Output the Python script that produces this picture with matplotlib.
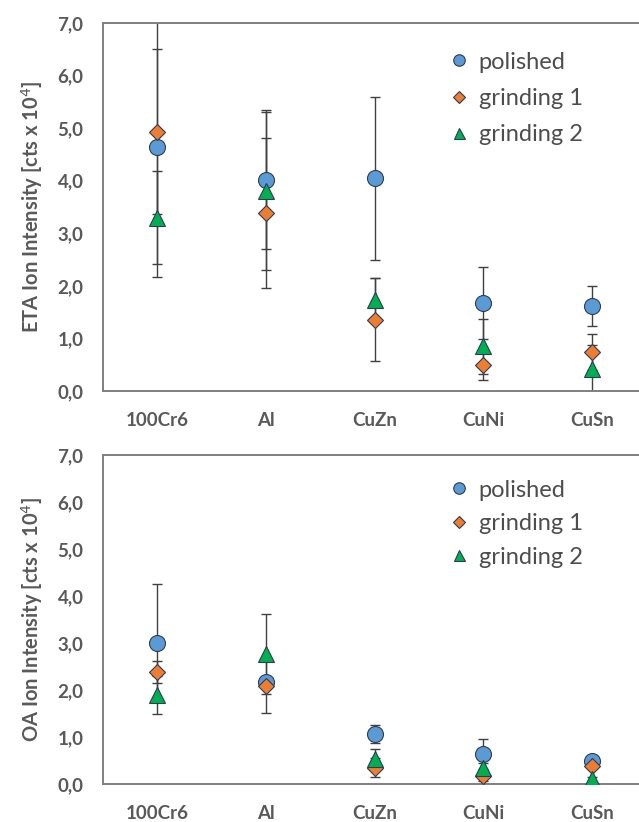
import matplotlib
matplotlib.use("Agg")
import matplotlib.pyplot as plt
from matplotlib.ticker import FuncFormatter

plt.rcParams["font.family"] = ["Lato", "DejaVu Sans"]

categories = ["100Cr6", "Al", "CuZn", "CuNi", "CuSn"]
series_names = ["polished", "grinding 1", "grinding 2"]

# ETA ion intensity (cts x 10^4), mean and standard deviation
eta_polished = [4.64, 4.02, 4.05, 1.67, 1.62]
eta_polished_err = [2.48, 1.32, 1.55, 0.68, 0.38]
eta_grinding1 = [4.93, 3.38, 1.36, 0.50, 0.74]
eta_grinding1_err = [1.57, 1.43, 0.78, 0.30, 0.35]
eta_grinding2 = [3.30, 3.80, 1.74, 0.85, 0.42]
eta_grinding2_err = [0.88, 1.50, 0.40, 0.52, 0.45]

# OA ion intensity (cts x 10^4), mean and standard deviation
oa_polished = [3.00, 2.18, 1.07, 0.63, 0.49]
oa_polished_err = [1.25, 0.10, 0.19, 0.32, 0.05]
oa_grinding1 = [2.38, 2.09, 0.35, 0.17, 0.38]
oa_grinding1_err = [0.23, 0.57, 0.20, 0.10, 0.05]
oa_grinding2 = [1.90, 2.77, 0.53, 0.35, 0.10]
oa_grinding2_err = [0.40, 0.85, 0.21, 0.10, 0.05]

y_ticks = [0, 1, 2, 3, 4, 5, 6, 7]

colors = ["#5B9BD5", "#ED7D31", "#00B050"]
markers = ["o", "D", "^"]
msizes = [11.5, 8.0, 11.0]
edge = "#2E3B55"
text_gray = "#595959"

W, H = 639, 822
fig = plt.figure(figsize=(W / 100, H / 100), dpi=100)


def px_axes(left, top, right, bottom):
    return fig.add_axes([left / W, 1 - bottom / H, (right - left) / W, (bottom - top) / H])


def draw_panel(ax, means, errs, ylabel, legend_top, legend_spacing):
    x = list(range(len(categories)))
    for i, (m, e) in enumerate(zip(means, errs)):
        ax.errorbar(x, m, yerr=e, fmt="none", ecolor="#404040", elinewidth=1.0,
                    capsize=3.5, capthick=1.0, zorder=2)
    for i, m in enumerate(means):
        ax.plot(x, m, linestyle="none", marker=markers[i], markersize=msizes[i],
                markerfacecolor=colors[i], markeredgecolor=edge, markeredgewidth=0.8,
                label=series_names[i], zorder=3 + i)
    ax.set_xlim(-0.5, len(categories) - 0.5)
    ax.set_ylim(0, 7)
    ax.set_yticks(y_ticks)
    ax.yaxis.set_major_formatter(FuncFormatter(lambda v, p: f"{v:.1f}".replace(".", ",")))
    ax.set_xticks(x)
    ax.set_xticklabels(categories)
    ax.tick_params(axis="both", length=0, labelsize=13.5, labelcolor=text_gray)
    ax.tick_params(axis="y", pad=14)
    ax.tick_params(axis="x", pad=15)
    for lab in ax.get_xticklabels() + ax.get_yticklabels():
        lab.set_fontweight("bold")
    for side in ["left", "bottom", "top", "right"]:
        ax.spines[side].set_color("#7F7F7F")
        ax.spines[side].set_linewidth(1.4)
    ax.set_ylabel(ylabel, fontsize=14.5, fontweight="bold", color=text_gray, labelpad=9)
    leg = ax.legend(loc="upper left", bbox_to_anchor=(0.62, legend_top), frameon=False,
                    fontsize=17, handletextpad=0.45, labelspacing=legend_spacing,
                    handlelength=0.8, borderaxespad=0, markerscale=0.72)
    for t in leg.get_texts():
        t.set_color("#4D4D4D")


ax1 = px_axes(103, 23, 646, 391)
draw_panel(ax1, [eta_polished, eta_grinding1, eta_grinding2],
           [eta_polished_err, eta_grinding1_err, eta_grinding2_err],
           r"ETA Ion Intensity [cts x 10$^{4}$]", 0.948, 0.65)

ax2 = px_axes(103, 455, 646, 784)
draw_panel(ax2, [oa_polished, oa_grinding1, oa_grinding2],
           [oa_polished_err, oa_grinding1_err, oa_grinding2_err],
           r"OA Ion Intensity [cts x 10$^{4}$]", 0.954, 0.53)

fig.savefig("out.png", dpi=100)
